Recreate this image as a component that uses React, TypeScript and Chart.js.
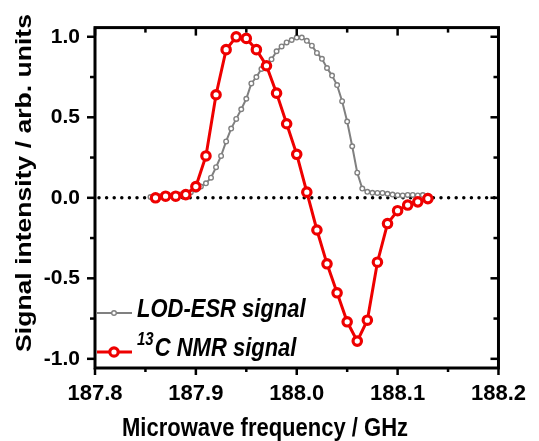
import { useEffect, useRef } from "react";
import { Chart, registerables } from "chart.js";

Chart.register(...registerables);

// ---- data ----
const ESR_FREQ = [
  187.855, 187.86, 187.865, 187.87, 187.875, 187.88, 187.885, 187.89, 187.895, 187.9,
  187.905, 187.91, 187.915, 187.92, 187.925, 187.93, 187.935, 187.94, 187.945, 187.95,
  187.955, 187.96, 187.965, 187.97, 187.975, 187.98, 187.985, 187.99, 187.995, 188.0,
  188.005, 188.01, 188.015, 188.02, 188.025, 188.03, 188.035, 188.04, 188.045, 188.05,
  188.055, 188.06, 188.065, 188.07, 188.075, 188.08, 188.085, 188.09, 188.095, 188.1,
  188.105, 188.11, 188.115, 188.12, 188.125, 188.13,
];
const ESR_SIGNAL = [
  0.005, 0.007, 0.009, 0.011, 0.013, 0.016, 0.02, 0.026, 0.035, 0.05,
  0.07, 0.09, 0.125, 0.19, 0.26, 0.35, 0.43, 0.49, 0.55, 0.615,
  0.71, 0.75, 0.8, 0.82, 0.86, 0.91, 0.94, 0.965, 0.98, 0.995,
  0.995, 0.975, 0.945, 0.9, 0.863, 0.806, 0.759, 0.7, 0.6, 0.474,
  0.32, 0.156, 0.057, 0.037, 0.031, 0.03, 0.03, 0.025, 0.02, 0.016,
  0.015, 0.018, 0.018, 0.015, 0.017, 0.012,
];
const NMR_FREQ = [
  187.86, 187.87, 187.88, 187.89, 187.9, 187.91, 187.92, 187.93, 187.94, 187.95,
  187.96, 187.97, 187.98, 187.99, 188.0, 188.01, 188.02, 188.03, 188.04, 188.05,
  188.06, 188.07, 188.08, 188.09, 188.1, 188.11, 188.12, 188.13,
];
const NMR_SIGNAL = [
  0.0, 0.01, 0.01, 0.02, 0.07, 0.26, 0.64, 0.92, 1.0, 0.99,
  0.92, 0.82, 0.65, 0.46, 0.27, 0.035, -0.2, -0.41, -0.59, -0.77,
  -0.89, -0.76, -0.4, -0.16, -0.08, -0.045, -0.025, -0.005,
];

const X_TICKS = [187.8, 187.9, 188.0, 188.1, 188.2];
const X_MINOR_TICKS = [187.85, 187.95, 188.05, 188.15];
const Y_TICKS = [-1.0, -0.5, 0.0, 0.5, 1.0];
const Y_MINOR_TICKS = [-0.75, -0.25, 0.25, 0.75];

const X_TITLE = "Microwave frequency / GHz";
const Y_TITLE = "Signal intensity / arb. units";
const ESR_LABEL = "LOD-ESR signal";
const NMR_LABEL_SUP = "13";
const NMR_LABEL = "C NMR signal";

const FONT = '"Liberation Sans", Arial, Helvetica, sans-serif';
const RED = "#ee0000";
const GRAY = "#808080";
const STRETCH = 1.18;

const decorPlugin = {
  id: "decor",
  beforeDatasetsDraw(chart: any) {
    const { ctx, chartArea: a, scales } = chart;
    const y0 = scales.y.getPixelForValue(0);
    ctx.save();
    ctx.beginPath();
    ctx.rect(a.left, a.top, a.right - a.left, a.bottom - a.top);
    ctx.clip();
    ctx.strokeStyle = "#000";
    ctx.lineWidth = 3.5;
    ctx.lineCap = "round";
    ctx.setLineDash([0, 7.6]);
    ctx.beginPath();
    ctx.moveTo(a.left + 4, y0);
    ctx.lineTo(a.right - 3, y0);
    ctx.stroke();
    ctx.restore();
  },
  afterDraw(chart: any) {
    const { ctx, chartArea: a, scales } = chart;
    const xs = scales.x;
    const ys = scales.y;
    ctx.save();
    // frame
    ctx.strokeStyle = "#000";
    ctx.lineWidth = 3;
    ctx.strokeRect(a.left, a.top, a.right - a.left, a.bottom - a.top);
    // ticks
    ctx.lineWidth = 2.5;
    const line = (x1: number, y1: number, x2: number, y2: number) => {
      ctx.beginPath();
      ctx.moveTo(x1, y1);
      ctx.lineTo(x2, y2);
      ctx.stroke();
    };
    X_TICKS.forEach((v) => {
      const p = xs.getPixelForValue(v);
      line(p, a.bottom, p, a.bottom + 7);
      line(p, a.top, p, a.top + 8);
    });
    X_MINOR_TICKS.forEach((v) => {
      const p = xs.getPixelForValue(v);
      line(p, a.bottom, p, a.bottom + 4);
      line(p, a.top, p, a.top + 5);
    });
    Y_TICKS.forEach((v) => {
      const p = ys.getPixelForValue(v);
      line(a.left - 8, p, a.left, p);
      line(a.right - 8, p, a.right, p);
    });
    Y_MINOR_TICKS.forEach((v) => {
      const p = ys.getPixelForValue(v);
      line(a.left - 5, p, a.left, p);
      line(a.right - 5, p, a.right, p);
    });

    // axis titles (vertically stretched like the source figure)
    const text = (s: string, x: number, y: number, font: string) => {
      ctx.save();
      ctx.translate(x, y);
      ctx.scale(1, STRETCH);
      ctx.font = font;
      ctx.fillText(s, 0, 0);
      ctx.restore();
    };
    ctx.fillStyle = "#000";
    ctx.textAlign = "center";
    ctx.textBaseline = "alphabetic";
    text(X_TITLE, 265, 436, `bold 22px ${FONT}`);
    ctx.save();
    ctx.translate(31, 183);
    ctx.rotate(-Math.PI / 2);
    ctx.scale(STRETCH, 1);
    ctx.font = `bold 22.5px ${FONT}`;
    ctx.fillText(Y_TITLE, 0, 0);
    ctx.restore();

    // legend
    const ds = chart.data.datasets;
    const sample = (d: any, y: number) => {
      ctx.strokeStyle = d.borderColor;
      ctx.lineWidth = d.borderWidth;
      line(97, y, 132, y);
      ctx.beginPath();
      ctx.arc(114, y, d.pointRadius, 0, Math.PI * 2);
      ctx.fillStyle = d.pointBackgroundColor;
      ctx.fill();
      ctx.strokeStyle = d.pointBorderColor;
      ctx.lineWidth = d.pointBorderWidth;
      ctx.stroke();
    };
    sample(ds[0], 313);
    sample(ds[1], 352);
    ctx.fillStyle = "#000";
    ctx.textAlign = "left";
    text(ESR_LABEL, 137, 317, `italic bold 22px ${FONT}`);
    text(NMR_LABEL_SUP, 137, 345, `italic bold 15px ${FONT}`);
    ctx.font = `italic bold 15px ${FONT}`;
    const supW = ctx.measureText(NMR_LABEL_SUP).width;
    text(NMR_LABEL, 137 + supW + 1, 356, `italic bold 22px ${FONT}`);
    ctx.restore();
  },
};

export default function App() {
  const ref = useRef<HTMLCanvasElement | null>(null);
  useEffect(() => {
    document.body.style.margin = "0";
    const canvas = ref.current;
    if (!canvas) return;
    const chart = new Chart(canvas, {
      type: "line",
      data: {
        datasets: [
          {
            label: ESR_LABEL,
            data: ESR_FREQ.map((f, i) => ({ x: f, y: ESR_SIGNAL[i] })),
            borderColor: GRAY,
            borderWidth: 2,
            pointRadius: 2.3,
            pointBorderWidth: 1.4,
            pointBackgroundColor: "#ffffff",
            pointBorderColor: GRAY,
            tension: 0,
            order: 1,
          },
          {
            label: NMR_LABEL_SUP + NMR_LABEL,
            data: NMR_FREQ.map((f, i) => ({ x: f, y: NMR_SIGNAL[i] })),
            borderColor: RED,
            borderWidth: 3,
            pointRadius: 4.2,
            pointBorderWidth: 3.2,
            pointBackgroundColor: "#ffffff",
            pointBorderColor: RED,
            tension: 0,
            order: 0,
          },
        ],
      },
      options: {
        animation: false,
        responsive: false,
        devicePixelRatio: 1,
        layout: { padding: { top: 24, right: 32, left: 0, bottom: 0 } },
        plugins: {
          legend: { display: false },
          tooltip: { enabled: false },
        },
        scales: {
          x: {
            type: "linear",
            position: "bottom",
            min: 187.8,
            max: 188.2,
            grid: { display: false, drawTicks: false },
            border: { display: false },
            afterBuildTicks: (s: any) => {
              s.ticks = X_TICKS.map((v) => ({ value: v }));
            },
            afterFit: (s: any) => {
              s.height = 73;
            },
            ticks: {
              autoSkip: false,
              maxRotation: 0,
              padding: 13,
              color: "#000",
              font: { family: FONT, size: 22, weight: "bold" },
              callback: (v: any) => Number(v).toFixed(1),
            },
          },
          y: {
            type: "linear",
            min: -1.057,
            max: 1.057,
            grid: { display: false, drawTicks: false },
            border: { display: false },
            afterBuildTicks: (s: any) => {
              s.ticks = Y_TICKS.map((v) => ({ value: v }));
            },
            afterFit: (s: any) => {
              s.width = 95;
            },
            ticks: {
              padding: 15,
              color: "#000",
              font: { family: FONT, size: 21, weight: "bold" },
              callback: (v: any) => Number(v).toFixed(1),
            },
          },
        },
      },
      plugins: [decorPlugin],
    } as any);
    return () => chart.destroy();
  }, []);
  return (
    <div style={{ width: 539, height: 441 }}>
      <canvas ref={ref} width={539} height={441} style={{ display: "block" }} />
    </div>
  );
}
